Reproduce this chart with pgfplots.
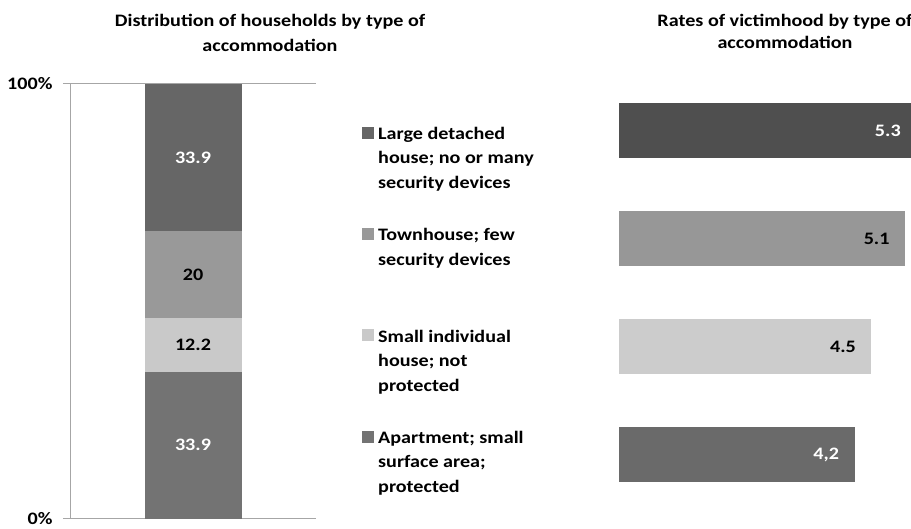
\documentclass[border=0pt]{standalone}
\usepackage{pgfplots}
\pgfplotsset{compat=1.18}
\usepackage{fontspec}
\setmainfont{Carlito}[FakeStretch=1.15]
\definecolor{cLarge}{HTML}{666666}
\definecolor{cTown}{HTML}{999999}
\definecolor{cSmall}{HTML}{C9C9C9}
\definecolor{cApt}{HTML}{737373}
\definecolor{rA}{HTML}{4F4F4F}
\definecolor{rB}{HTML}{979797}
\definecolor{rC}{HTML}{CCCCCC}
\definecolor{rD}{HTML}{6A6A6A}
\definecolor{gridc}{HTML}{A6A6A6}
\newcommand{\lbl}{\bfseries\fontsize{17.5}{17.5}\selectfont}
\begin{document}
\begin{tikzpicture}
\path[use as bounding box, clip] (0pt,0pt) rectangle (911pt,529pt);
\node[anchor=base, align=center, inner sep=0pt, font=\bfseries\fontsize{17.5}{25}\selectfont] at (270pt,477pt) {Distribution of households by type of\\accommodation};
\node[anchor=base, align=center, inner sep=0pt, font=\bfseries\fontsize{17.5}{22.5}\selectfont] at (785pt,480pt) {Rates of victimhood by type of\\accommodation};

\begin{axis}[at={(70pt,10pt)}, anchor=south west, scale only axis, width=246pt, height=435pt,
  xmin=0, xmax=1, ymin=0, ymax=100,
  ybar stacked, bar width=97pt,
  axis x line=bottom, axis y line=left,
  axis line style={-, draw=gridc, line width=1pt},
  xtick=\empty, ytick={0,100}, yticklabels={0\%,100\%},
  ymajorgrids, grid style={draw=gridc, line width=1pt},
  tick align=outside, major tick length=7pt, tick style={draw=gridc, line width=1pt},
  yticklabel style={font=\lbl, xshift=-7pt},
  legend cell align=left,
  legend style={at={(1.18699,0.9130)}, anchor=north west, draw=none, fill=none,
    inner sep=0pt, row sep=33.5pt, font=\bfseries\fontsize{17.5}{24.5}\selectfont,
    nodes={inner sep=0pt, align=left}, cells={anchor=north west}},
  legend image code/.code={\fill[#1] (0pt,-16.5pt) rectangle (12pt,-4.5pt); \path (16pt,0pt);},
  reverse legend,
]
\addplot[fill=cApt, draw=none] coordinates {(0.5,33.9)};
\addlegendentry{\strut Apartment; small\\surface area;\\protected\strut}
\addplot[fill=cSmall, draw=none] coordinates {(0.5,12.2)};
\addlegendentry{\strut Small individual\\house; not\\protected\strut}
\addplot[fill=cTown, draw=none] coordinates {(0.5,20)};
\addlegendentry{\strut Townhouse; few\\security devices\\\strut}
\addplot[fill=cLarge, draw=none] coordinates {(0.5,33.9)};
\addlegendentry{\strut Large detached\\house; no or many\\security devices\strut}
\end{axis}

\begin{axis}[at={(70pt,10pt)}, anchor=south west, scale only axis, width=246pt, height=435pt,
  xmin=0, xmax=1, ymin=0, ymax=100, hide axis, clip=false,
  nodes near coords, point meta=explicit symbolic,
  every node near coord/.append style={anchor=center, font=\lbl}]
\addplot[draw=none, mark=none, nodes near coords={\textcolor{white}{\pgfplotspointmeta}}] table[meta=label] {
x y label
0.5 16.95 33.9
0.5 83.05 33.9
};
\addplot[draw=none, mark=none, nodes near coords={\textcolor{black}{\pgfplotspointmeta}}] table[meta=label] {
x y label
0.5 39.95 12.2
0.5 56.05 20
};
\end{axis}

\begin{axis}[at={(619pt,10pt)}, anchor=south west, scale only axis, width=300.1pt, height=435pt,
  xmin=0, xmax=5.35, ymin=0.4028, ymax=4.4306, hide axis,
  xbar, bar width=55pt, every axis plot/.append style={bar shift=0pt},
  nodes near coords, point meta=explicit symbolic,
  every node near coord/.append style={anchor=east, xshift=-12pt, font=\lbl}]
\addplot[fill=rA, draw=none, nodes near coords={\textcolor{white}{\pgfplotspointmeta}}] table[meta=label] {
x y label
5.3 4 5.3
};
\addplot[fill=rB, draw=none, nodes near coords={\textcolor{black}{\pgfplotspointmeta}}] table[meta=label] {
x y label
5.1 3 5.1
};
\addplot[fill=rC, draw=none, nodes near coords={\textcolor{black}{\pgfplotspointmeta}}] table[meta=label] {
x y label
4.5 2 4.5
};
\addplot[fill=rD, draw=none, nodes near coords={\textcolor{white}{\pgfplotspointmeta}}] table[meta=label] {
x y label
4.2 1 {4,2}
};
\end{axis}
\end{tikzpicture}
\end{document}
